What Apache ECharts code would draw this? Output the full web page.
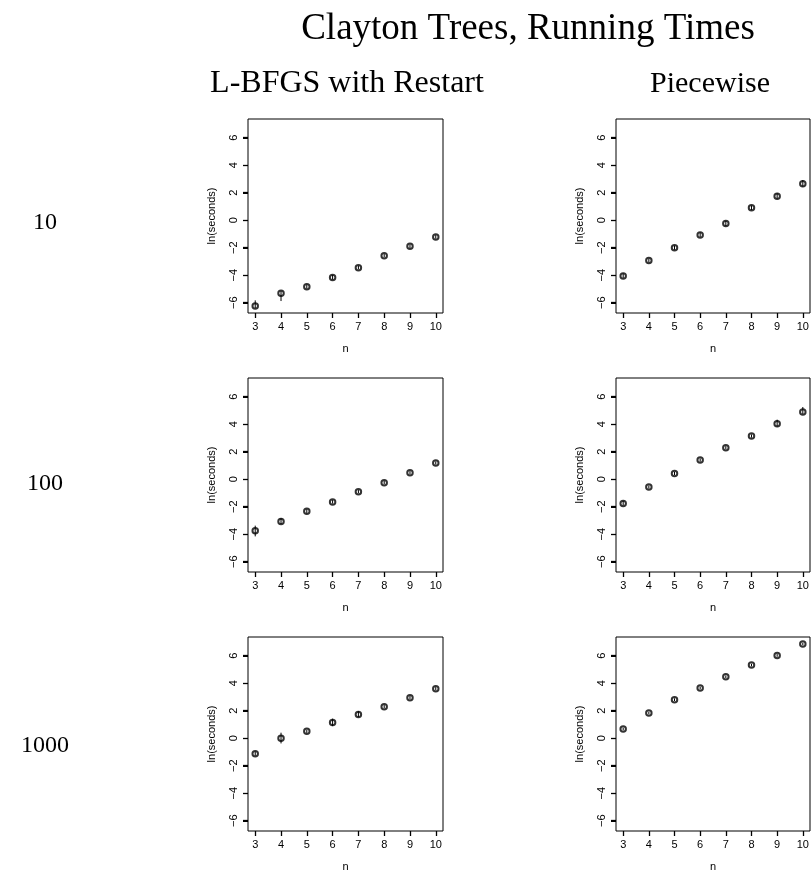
<!DOCTYPE html>
<html>
<head>
<meta charset="utf-8">
<script src="https://cdn.jsdelivr.net/npm/echarts@6/dist/echarts.min.js"></script>
<style>
html,body{margin:0;padding:0;background:#fff;}
#chart{width:812px;height:875px;}
</style>
</head>
<body>
<div id="chart"></div>
<script>
// ---- data ----
var nValues = [3, 4, 5, 6, 7, 8, 9, 10];
var xTicks = [3, 4, 5, 6, 7, 8, 9, 10];
var yTicks = [-6, -4, -2, 0, 2, 4, 6];
var rowLabels = ["10", "100", "1000"];
var colLabels = ["L-BFGS with Restart", "Piecewise"];
var mainTitle = "Clayton Trees, Running Times";

var lbfgs10    = [-6.24, -5.32, -4.84, -4.16, -3.45, -2.58, -1.90, -1.22];
var lbfgs10Lo  = [-6.39, -5.88, -4.98, -4.32, -3.58, -2.70, -2.03, -1.35];
var lbfgs10Hi  = [-5.83, -5.15, -4.70, -3.98, -3.32, -2.46, -1.76, -1.08];

var piece10    = [-4.05, -2.93, -2.01, -1.07, -0.24, 0.90, 1.75, 2.65];
var piece10Lo  = [-4.20, -3.06, -2.15, -1.22, -0.43, 0.74, 1.58, 2.45];
var piece10Hi  = [-3.88, -2.80, -1.86, -0.90, -0.05, 1.06, 1.95, 2.92];

var lbfgs100   = [-3.75, -3.07, -2.34, -1.66, -0.91, -0.25, 0.47, 1.18];
var lbfgs100Lo = [-4.16, -3.26, -2.48, -1.78, -1.03, -0.37, 0.35, 1.06];
var lbfgs100Hi = [-3.38, -2.83, -2.18, -1.52, -0.79, -0.13, 0.59, 1.30];

var piece100   = [-1.76, -0.57, 0.42, 1.39, 2.29, 3.14, 4.04, 4.88];
var piece100Lo = [-1.90, -0.69, 0.30, 1.27, 2.17, 3.02, 3.84, 4.74];
var piece100Hi = [-1.58, -0.45, 0.54, 1.51, 2.41, 3.26, 4.33, 5.25];

var lbfgs1000   = [-1.13, -0.01, 0.50, 1.15, 1.73, 2.29, 2.95, 3.60];
var lbfgs1000Lo = [-1.28, -0.38, 0.38, 0.88, 1.53, 2.17, 2.83, 3.48];
var lbfgs1000Hi = [-0.98, 0.40, 0.62, 1.42, 1.97, 2.41, 3.07, 3.72];

var piece1000   = [0.67, 1.83, 2.80, 3.65, 4.47, 5.32, 6.02, 6.85];
var piece1000Lo = [0.57, 1.73, 2.70, 3.55, 4.37, 5.22, 5.92, 6.75];
var piece1000Hi = [0.77, 1.93, 2.90, 3.75, 4.57, 5.42, 6.12, 6.95];

var panels = [
  [lbfgs10, lbfgs10Lo, lbfgs10Hi], [piece10, piece10Lo, piece10Hi],
  [lbfgs100, lbfgs100Lo, lbfgs100Hi], [piece100, piece100Lo, piece100Hi],
  [lbfgs1000, lbfgs1000Lo, lbfgs1000Hi], [piece1000, piece1000Lo, piece1000Hi]
];

// ---- layout ----
var colLeft = [248, 616];
var colWidth = [195, 194];
var rowTop = [119, 378, 637];
var plotH = 194;
var xMin = 2.72, xMax = 10.28, yMin = -6.75, yMax = 7.36;
var serif = "'Liberation Serif', 'DejaVu Serif', serif";
var sans = "'Liberation Sans', Arial, sans-serif";

var grids = [], xAxes = [], yAxes = [], series = [];
for (var r = 0; r < 3; r++) {
  for (var c = 0; c < 2; c++) {
    var k = r * 2 + c;
    grids.push({left: colLeft[c], top: rowTop[r], width: colWidth[c], height: plotH,
      show: true, borderColor: '#000', borderWidth: 1});
    xAxes.push({type: 'value', gridIndex: k, min: xMin, max: xMax,
      name: 'n', nameLocation: 'middle', nameGap: 30,
      nameTextStyle: {fontFamily: sans, fontSize: 11, color: '#000'},
      axisLine: {show: false, onZero: false},
      splitLine: {show: false},
      axisTick: {show: true, length: 5, customValues: xTicks, lineStyle: {color: '#000', width: 1.3}},
      axisLabel: {customValues: xTicks, margin: 8, fontFamily: sans, fontSize: 11, color: '#000'}});
    yAxes.push({type: 'value', gridIndex: k, min: yMin, max: yMax,
      name: 'ln(seconds)', nameLocation: 'middle', nameGap: 31, nameRotate: 90,
      nameTextStyle: {fontFamily: sans, fontSize: 11, color: '#000'},
      axisLine: {show: false, onZero: false},
      splitLine: {show: false},
      axisTick: {show: true, length: 5, customValues: yTicks, lineStyle: {color: '#000', width: 1.3}},
      axisLabel: {customValues: yTicks, rotate: 90, margin: 9, fontFamily: sans, fontSize: 11, color: '#000',
        formatter: function (v) { return v < 0 ? '\u2212' + Math.abs(v) : String(v); }}});
    var p = panels[k];
    var pts = nValues.map(function (n, i) { return [n, p[0][i]]; });
    var bars = nValues.map(function (n, i) { return [n, p[1][i], p[2][i]]; });
    series.push({type: 'scatter', xAxisIndex: k, yAxisIndex: k, data: pts,
      symbol: 'emptyCircle', symbolSize: 5.5, z: 2,
      itemStyle: {color: '#000', borderColor: '#000', borderWidth: 1}, silent: true});
    series.push({type: 'custom', xAxisIndex: k, yAxisIndex: k, data: bars, z: 3, silent: true,
      renderItem: function (params, api) {
        var a = api.coord([api.value(0), api.value(1)]);
        var b = api.coord([api.value(0), api.value(2)]);
        return {type: 'line', shape: {x1: a[0], y1: a[1], x2: b[0], y2: b[1]},
          style: {stroke: '#000', lineWidth: 1}};
      }});
    // y-axis tick marks drawn through the axis scale (backup for the axis ticks)
    series.push({type: 'custom', xAxisIndex: k, yAxisIndex: k, clip: false, z: 3, silent: true,
      data: yTicks.map(function (v) { return [xMin, v]; }),
      renderItem: function (params, api) {
        var q = api.coord([api.value(0), api.value(1)]);
        var yy = Math.round(q[1]) + 0.5;
        return {type: 'line', shape: {x1: q[0] - 5, y1: yy, x2: q[0], y2: yy},
          style: {stroke: '#000', lineWidth: 1}};
      }});
  }
}

var titles = [
  {text: mainTitle, left: 528, top: 11, padding: 0, textAlign: 'center',
    textStyle: {fontFamily: serif, fontSize: 37, fontWeight: 'normal', color: '#000'}},
  {text: colLabels[0], left: 347, top: 68, padding: 0, textAlign: 'center',
    textStyle: {fontFamily: serif, fontSize: 32, fontWeight: 'normal', color: '#000'}},
  {text: colLabels[1], left: 710, top: 69, padding: 0, textAlign: 'center',
    textStyle: {fontFamily: serif, fontSize: 30, fontWeight: 'normal', color: '#000'}}
];
var rowCenters = [222, 483, 745];
for (var r2 = 0; r2 < 3; r2++) {
  titles.push({text: rowLabels[r2], left: 45, top: rowCenters[r2] - 11, padding: 0, textAlign: 'center',
    textStyle: {fontFamily: serif, fontSize: 24, fontWeight: 'normal', color: '#000'}});
}

var chart = echarts.init(document.getElementById('chart'), null, {renderer: 'canvas'});
chart.setOption({
  animation: false,
  backgroundColor: '#fff',
  title: titles,
  grid: grids,
  xAxis: xAxes,
  yAxis: yAxes,
  series: series
});
</script>
</body>
</html>
